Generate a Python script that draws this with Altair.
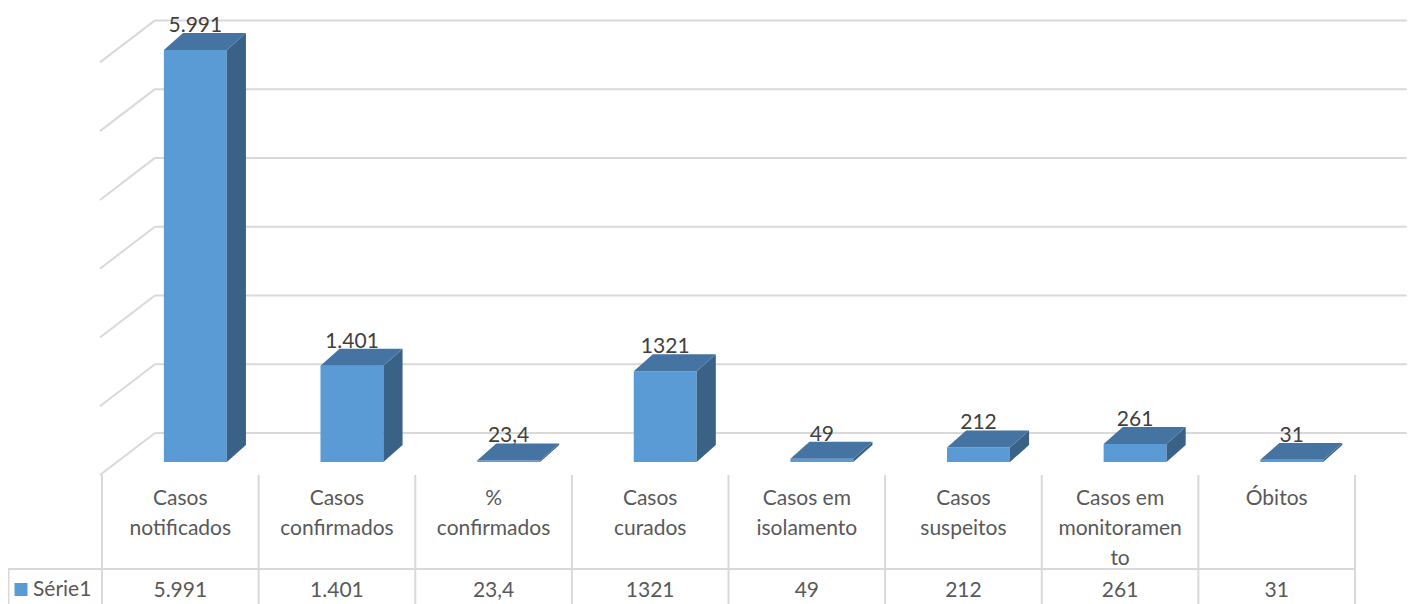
import altair as alt
import pandas as pd

# ---- data ----
categories = ["Casos notificados", "Casos confirmados", "% confirmados", "Casos curados",
              "Casos em isolamento", "Casos suspeitos", "Casos em monitoramento", "Óbitos"]
category_lines = [["Casos", "notificados"], ["Casos", "confirmados"], ["%", "confirmados"],
                  ["Casos", "curados"], ["Casos em", "isolamento"], ["Casos", "suspeitos"],
                  ["Casos em", "monitoramen", "to"], ["Óbitos"]]
values = [5991, 1401, 23.4, 1321, 49, 212, 261, 31]
value_labels = ["5.991", "1.401", "23,4", "1321", "49", "212", "261", "31"]
series_name = "Série1"
grid_values = [0, 1000, 2000, 3000, 4000, 5000, 6000]

# ---- style / geometry (3D look) ----
FRONT_L, FRONT_R = 0.395, 0.797     # front face within a category slot
DEPTH_X, DEPTH_Y = 0.122, 247       # 3D depth offset (slot units, value units)
FLOOR_FRONT, FLOOR_BACK = -189, 422  # gridline front / back wall offsets (value units)
GRID_XL, GRID_XB, GRID_XR = -0.013, 0.338, 8.33

FONT = "Lato"
FS = 21
C_FRONT, C_TOP, C_SIDE = "#5B9BD5", "#4674A2", "#3A6287"
C_GRID = "#D9D9D9"

xs = alt.Scale(domain=[0, 8], range=[94, 1347], zero=False, nice=False)
ys = alt.Scale(domain=[0, 6000], range=[454, 41.4], zero=False, nice=False)


def X(f):
    return alt.X(f, type="quantitative", scale=xs, axis=None)


def Y(f):
    return alt.Y(f, type="quantitative", scale=ys, axis=None)


n = len(categories)
bars = pd.DataFrame({"i": range(n), "cat": categories, "v": values, "label": value_labels})
bars["x0"] = bars["i"] + FRONT_L
bars["x1"] = bars["i"] + FRONT_R
bars["xc"] = (bars["x0"] + bars["x1"]) / 2
bars["vt"] = bars["v"] + DEPTH_Y
bars["zero"] = 0.0

side_rows, top_rows = [], []
for i, (c, v) in enumerate(zip(categories, values)):
    x0, x1 = i + FRONT_L, i + FRONT_R
    side_rows += [{"cat": c, "x": x1, "y": v, "y2": 0.0},
                  {"cat": c, "x": x1 + DEPTH_X, "y": v + DEPTH_Y, "y2": DEPTH_Y}]
    top_rows += [{"cat": c, "y": v, "x": x0, "x2": x1},
                 {"cat": c, "y": v + DEPTH_Y, "x": x0 + DEPTH_X, "x2": x1 + DEPTH_X}]
side = pd.DataFrame(side_rows)
top = pd.DataFrame(top_rows)

grid = pd.DataFrame({"v": grid_values})
grid["ya"] = grid["v"] + FLOOR_FRONT
grid["yb"] = grid["v"] + FLOOR_BACK
grid["xa"] = GRID_XL
grid["xb"] = GRID_XB
grid["xr"] = GRID_XR

grid_diag = alt.Chart(grid).mark_rule(color=C_GRID, strokeWidth=2).encode(
    x=X("xa"), x2="xb", y=Y("ya"), y2="yb")
grid_h = alt.Chart(grid).mark_rule(color=C_GRID, strokeWidth=2).encode(
    x=X("xb"), x2="xr", y=Y("yb"))

front = alt.Chart(bars).mark_bar(color=C_FRONT).encode(
    x=X("x0"), x2="x1", y=Y("v"), y2="zero")
side_face = alt.Chart(side).mark_area(color=C_SIDE, orient="vertical").encode(
    x=X("x"), y=Y("y"), y2="y2", detail="cat:N")
top_face = alt.Chart(top).mark_area(color=C_TOP, orient="horizontal").encode(
    y=Y("y"), x=X("x"), x2="x2", detail="cat:N")

value_text = alt.Chart(bars).mark_text(
    font=FONT, fontSize=FS, color="#404040", baseline="alphabetic", align="center", dy=-1
).encode(x=X("xc"), y=Y("vt"), text="label:N")

# ---- data table ----
table = pd.DataFrame({"xm": [i + 0.5 for i in range(n)],
                      "lab": ["\n".join(l) for l in category_lines],
                      "val": value_labels})
vlines = pd.DataFrame({"k": list(range(n + 1))})
table_v = alt.Chart(vlines).mark_rule(color=C_GRID, strokeWidth=2).encode(
    x=X("k"), y=alt.value(467), y2=alt.value(596))
hline = pd.DataFrame({"a": [-0.6], "b": [float(n)]})
table_h = alt.Chart(hline).mark_rule(color=C_GRID, strokeWidth=2).encode(
    x=X("a"), x2="b", y=alt.value(561))
legend_border = alt.Chart(hline).mark_rule(color=C_GRID, strokeWidth=2).encode(
    x=alt.value(0.5), y=alt.value(561), y2=alt.value(596))

cat_text = alt.Chart(table).mark_text(
    font=FONT, fontSize=FS, color="#595959", baseline="top", align="center",
    lineBreak="\n", lineHeight=30
).encode(x=X("xm"), y=alt.value(480), text="lab:N")
val_text = alt.Chart(table).mark_text(
    font=FONT, fontSize=FS, color="#595959", baseline="alphabetic", align="center"
).encode(x=X("xm"), y=alt.value(589), text="val:N")

leg = pd.DataFrame({"s": [series_name]})
leg_sq = alt.Chart(leg).mark_square(color=C_FRONT, size=169, opacity=1).encode(
    x=alt.value(13), y=alt.value(581.5))
leg_txt = alt.Chart(leg).mark_text(
    font=FONT, fontSize=FS, color="#595959", baseline="alphabetic", align="left"
).encode(x=alt.value(25), y=alt.value(588), text="s:N")

chart = alt.layer(
    grid_diag, grid_h, front, side_face, top_face, value_text,
    table_v, table_h, legend_border, cat_text, val_text, leg_sq, leg_txt
).properties(
    width=1402, height=596, padding=0,
    autosize=alt.AutoSizeParams(type="none")
).configure_view(stroke=None)

chart.save("out.html", embed_options={"renderer": "svg", "actions": False})
